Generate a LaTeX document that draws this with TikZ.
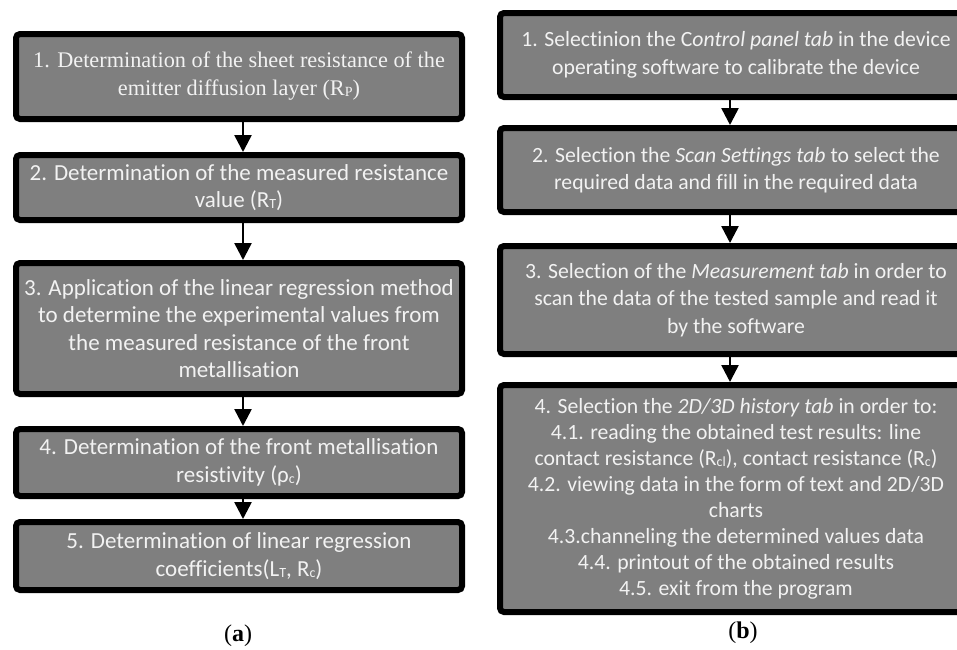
\documentclass[tikz,border=0pt]{standalone}
\usepackage{fontspec}
\setmainfont{Carlito}[Ligatures=NoCommon]
\newfontfamily\serifface{Liberation Serif}
\usetikzlibrary{arrows.meta}
\definecolor{boxgray}{HTML}{7F7F7F}
\definecolor{boxtext}{HTML}{F2F2F2}
\newcommand{\lowtxt}[1]{\raisebox{-0.1ex}{\fontsize{14}{14}\selectfont #1}}
\tikzset{
  box/.style={draw=black, line width=6pt, rounded corners=4pt, fill=boxgray,
    text=boxtext, align=center, inner sep=0pt},
  lbox/.style={box, minimum width=446pt, font=\fontsize{23}{27.5}\selectfont},
  rbox/.style={box, minimum width=472pt, font=\fontsize{21.7}{27.5}\selectfont},
  flow/.style={-{Triangle[length=17pt,width=17pt]}, line width=2.5pt},
  caption/.style={font=\serifface\fontsize{24}{28}\selectfont, inner sep=0pt}
}
\begin{document}
\begin{tikzpicture}[x=1pt, y=-1pt]
\clip (0,0) rectangle (957,649);
\fill[white] (0,0) rectangle (957,649);
% left column
\node[lbox, minimum height=85pt, font=\serifface\fontsize{22.3}{28}\selectfont] (L1) at (239,76.5)
  {1. Determination of the sheet resistance of the\\ emitter diffusion layer (R\lowtxt{P})};
\node[lbox, minimum height=65pt] (L2) at (239,187.5)
  {2. Determination of the measured resistance\\ value (R\lowtxt{T})};
\node[lbox, minimum height=131pt] (L3) at (239,328.5)
  {3. Application of the linear regression method\\ to determine the experimental values from\\ the measured resistance of the front\\ metallisation};
\node[lbox, minimum height=67pt] (L4) at (239,462.5)
  {4. Determination of the front metallisation\\ resistivity (ρ\lowtxt{c})};
\node[lbox, minimum height=68pt] (L5) at (239,556)
  {5. Determination of linear regression\\ coefficients(L\lowtxt{T}, R\lowtxt{c})};
\coordinate (la) at (243,0);
\draw[flow] (L1.south -| la) -- (L2.north -| la);
\draw[flow] (L2.south -| la) -- (L3.north -| la);
\draw[flow] (L3.south -| la) -- (L4.north -| la);
\draw[flow] (L4.south -| la) -- (L5.north -| la);
\node[caption] (ca) at (238,636) {(\textbf{a})};
% right column
\node[rbox, minimum height=84pt] (R1) at (736,55)
  {1. Selectinion the C\textit{ontrol panel tab} in the device\\ operating software to calibrate the device};
\node[rbox, minimum height=84pt] (R2) at (736,170)
  {2. Selection the \textit{Scan Settings tab} to select the\\ required data and fill in the required data};
\node[rbox, minimum height=108pt] (R3) at (736,300)
  {3. Selection of the \textit{Measurement tab} in order to\\ scan the data of the tested sample and read it\\ by the software};
\node[rbox, minimum height=227pt, font=\fontsize{21.7}{26}\selectfont] (R4) at (736,498.5)
  {4. Selection the \textit{2D/3D history tab} in order to:\\
   4.1. reading the obtained test results: line\\
   contact resistance (R\lowtxt{cl}), contact resistance (R\lowtxt{c})\\
   4.2. viewing data in the form of text and 2D/3D\\
   charts\\
   4.3.channeling the determined values data\\
   4.4. printout of the obtained results\\
   4.5. exit from the program};
\coordinate (ra) at (730,0);
\draw[flow] (R1.south -| ra) -- (R2.north -| ra);
\draw[flow] (R2.south -| ra) -- (R3.north -| ra);
\draw[flow] (R3.south -| ra) -- (R4.north -| ra);
\node[caption] (cb) at (743,633) {(\textbf{b})};
\end{tikzpicture}
\end{document}
